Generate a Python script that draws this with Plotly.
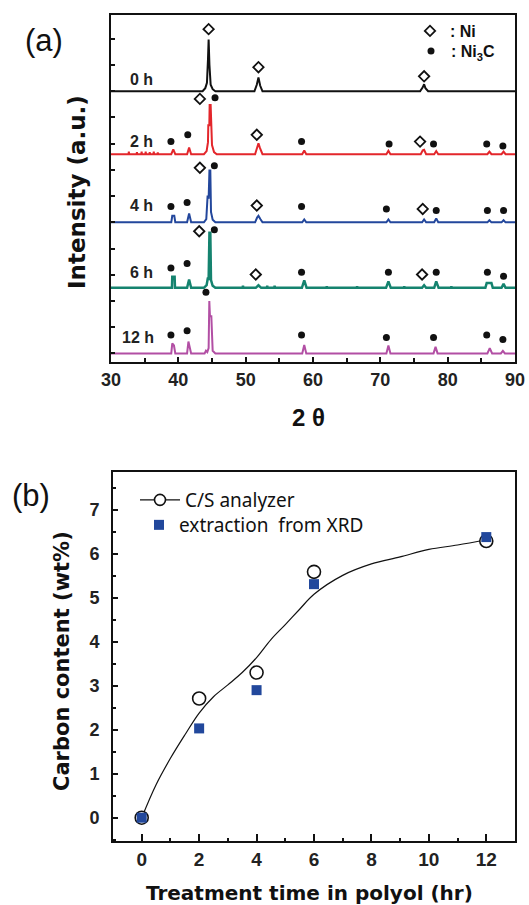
import plotly.graph_objects as go

W, H = 529, 905

# ---------------- Panel (a): XRD patterns ----------------
labels = ["0 h", "2 h", "4 h", "6 h", "12 h"]
colors = ["#111111", "#e3262b", "#23479c", "#15836f", "#b24fa4"]
widths = [2, 2, 2, 2.5, 2]
offsets = [10.0, 7.6, 5.0, 2.5, 0.0]

x_0h = [30, 43.6, 44.0, 44.25, 44.4, 44.5, 44.62, 44.8, 45.1, 45.5,
        51.3, 51.65, 51.9, 52.15, 52.5, 75.9, 76.3, 76.5, 76.7, 77.1, 90]
y_0h = [0, 0, 0.12, 0.32, 1.2, 1.97, 1.0, 0.25, 0.08, 0,
        0, 0.25, 0.53, 0.22, 0, 0, 0.15, 0.27, 0.12, 0, 0]

x_2h = [30, 32.6, 32.65, 32.7, 33.8, 33.85, 33.9, 34.5, 34.55, 34.6, 35.1, 35.15, 35.2,
        35.7, 35.75, 35.8, 36.3, 36.35, 36.4, 36.9, 36.95, 37.0,
        38.95, 39.25, 39.55, 41.3, 41.6, 41.9,
        43.8, 44.2, 44.4, 44.45, 44.6, 44.65, 44.8, 45.0, 45.3, 45.7,
        51.4, 51.7, 51.9, 52.1, 52.5, 58.4, 58.7, 59.0, 70.9, 71.2, 71.5,
        76.0, 76.3, 76.5, 76.8, 78.0, 78.3, 78.6, 85.9, 86.2, 86.5, 88.0, 88.3, 88.6, 90]
y_2h = [0, 0, 0.1, 0, 0, 0.08, 0, 0, 0.1, 0, 0, 0.1, 0,
        0, 0.08, 0, 0, 0.1, 0, 0, 0.07, 0,
        0, 0.18, 0, 0, 0.25, 0,
        0, 0.12, 0.45, 1.1, 1.1, 1.88, 1.88, 0.35, 0.08, 0,
        0, 0.3, 0.42, 0.25, 0, 0, 0.14, 0, 0, 0.13, 0,
        0, 0.15, 0.17, 0, 0, 0.12, 0, 0, 0.1, 0, 0, 0.1, 0, 0]

x_4h = [30, 38.95, 39.1, 39.4, 39.55, 41.3, 41.6, 41.9,
        43.8, 44.15, 44.35, 44.5, 44.62, 44.75, 44.85, 45.1, 45.5,
        51.4, 51.7, 51.9, 52.2, 52.5, 58.4, 58.7, 59.0, 70.9, 71.2, 71.5,
        76.2, 76.5, 76.8, 78.0, 78.3, 78.6, 85.9, 86.2, 86.5, 88.0, 88.3, 88.6, 90]
y_4h = [0, 0, 0.25, 0.25, 0, 0, 0.34, 0,
        0, 0.12, 1.02, 0.9, 1.98, 1.98, 0.4, 0.1, 0,
        0, 0.18, 0.25, 0.12, 0, 0, 0.11, 0, 0, 0.11, 0,
        0, 0.11, 0, 0, 0.15, 0, 0, 0.08, 0, 0, 0.08, 0, 0]

x_6h = [30, 39.05, 39.1, 39.45, 39.5, 41.3, 41.6, 41.9,
        43.8, 44.2, 44.4, 44.5, 44.62, 44.75, 44.85, 45.1, 45.5,
        49.55, 49.6, 49.65, 51.5, 51.9, 52.3, 53.15, 53.2, 53.25, 54.25, 54.3, 54.35,
        58.35, 58.7, 59.05, 62.0, 62.05, 62.1, 66.5, 66.55, 66.6,
        70.85, 71.2, 71.55, 73.5, 73.55, 73.6, 76.2, 76.5, 76.8,
        78.0, 78.3, 78.65, 80.5, 80.55, 80.6, 85.6, 85.8, 86.5, 86.7, 88.0, 88.3, 88.6, 90]
y_6h = [0, 0, 0.42, 0.42, 0, 0, 0.32, 0,
        0, 0.1, 0.4, 0.3, 2.1, 2.1, 0.3, 0.08, 0,
        0, 0.08, 0, 0, 0.1, 0, 0, 0.08, 0, 0, 0.08, 0,
        0, 0.29, 0, 0, 0.06, 0, 0, 0.06, 0,
        0, 0.25, 0, 0, 0.06, 0, 0, 0.1, 0,
        0, 0.25, 0, 0, 0.06, 0, 0, 0.19, 0.19, 0, 0, 0.15, 0, 0]

x_12h = [30, 38.95, 39.1, 39.35, 39.55, 41.3, 41.5, 41.65, 41.9,
         43.9, 44.1, 44.3, 44.5, 44.6, 44.7, 44.9, 45.1, 45.5,
         58.4, 58.7, 59.0, 70.9, 71.2, 71.5, 77.9, 78.2, 78.5,
         85.9, 86.25, 86.6, 87.9, 88.2, 88.5, 90]
y_12h = [0, 0, 0.38, 0.3, 0, 0, 0.45, 0.3, 0,
         0, 0.1, 0.05, 0.2, 2.0, 1.42, 1.42, 0.1, 0,
         0, 0.32, 0, 0, 0.3, 0, 0, 0.25, 0, 0, 0.2, 0, 0, 0.1, 0, 0]

pattern_x = [x_0h, x_2h, x_4h, x_6h, x_12h]
pattern_y = [y_0h, y_2h, y_4h, y_6h, y_12h]

# phase markers (2theta, height above each pattern's baseline)
ni_x = [[44.5, 51.9, 76.5], [43.2, 51.65, 75.9], [43.2, 51.65, 76.3], [43.1, 51.5, 76.2], []]
ni_y = [[2.37, 0.92, 0.57], [2.11, 0.74, 0.48], [2.08, 0.64, 0.51], [2.16, 0.51, 0.51], []]
ni3c_x = [[],
          [38.9, 41.4, 45.45, 58.3, 71.3, 77.9, 85.8, 88.2],
          [38.9, 41.3, 45.35, 58.3, 70.9, 78.3, 85.9, 88.3],
          [38.9, 41.3, 45.35, 58.3, 71.2, 78.3, 85.9, 88.3],
          [38.9, 41.3, 44.1, 58.3, 70.9, 77.9, 85.8, 88.2]]
ni3c_y = [[],
          [0.48, 0.74, 2.15, 0.48, 0.39, 0.39, 0.39, 0.31],
          [0.6, 0.76, 2.16, 0.6, 0.51, 0.45, 0.45, 0.45],
          [0.76, 0.93, 2.22, 0.6, 0.6, 0.6, 0.6, 0.44],
          [0.7, 0.86, 2.33, 0.7, 0.61, 0.61, 0.7, 0.53]]

label_x = [34.6, 34.6, 34.6, 34.6, 34.0]
label_y = [0.46, 0.5, 0.64, 0.6, 0.61]

# ---------------- Panel (b): carbon content ----------------
time_hr = [0, 2, 4, 6, 12]
cs_analyzer = [0.0, 2.71, 3.30, 5.59, 6.29]
xrd_extract = [0.0, 2.03, 2.90, 5.31, 6.38]
fit_x = [0, 0.5, 1, 1.5, 2, 2.5, 3, 3.5, 4, 4.5, 5, 5.5, 6, 7, 8, 9, 10, 11, 12]
fit_y = [0, 0.75, 1.35, 1.88, 2.38, 2.75, 3.02, 3.3, 3.64, 4.05, 4.39, 4.74, 5.08,
         5.51, 5.77, 5.93, 6.1, 6.2, 6.32]

fig = go.Figure()

for i in range(len(labels)):
    fig.add_trace(go.Scatter(
        x=pattern_x[i], y=[v + offsets[i] for v in pattern_y[i]],
        mode="lines", line=dict(color=colors[i], width=widths[i]),
        showlegend=False, xaxis="x", yaxis="y", hoverinfo="skip"))

nx, ny, cx, cy = [], [], [], []
for i in range(len(labels)):
    nx += ni_x[i]
    ny += [v + offsets[i] for v in ni_y[i]]
    cx += ni3c_x[i]
    cy += [v + offsets[i] for v in ni3c_y[i]]

fig.add_trace(go.Scatter(
    x=nx, y=ny, mode="markers", name=": Ni",
    marker=dict(symbol="diamond-open", size=8, color="#111111", line=dict(width=1.8)),
    xaxis="x", yaxis="y", legend="legend2"))
fig.add_trace(go.Scatter(
    x=cx, y=cy, mode="markers", name=": Ni<sub>3</sub>C",
    marker=dict(symbol="circle", size=7, color="#111111"),
    xaxis="x", yaxis="y", legend="legend4"))

annotations = []
for i in range(len(labels)):
    annotations.append(dict(
        x=label_x[i], y=label_y[i] + offsets[i], xref="x", yref="y",
        text=labels[i], showarrow=False, xanchor="center", yanchor="middle",
        font=dict(family="Liberation Sans", size=16, color="#222", weight="bold")))

# panel (b) traces
fig.add_trace(go.Scatter(
    x=fit_x, y=fit_y, mode="lines", line=dict(color="#111111", width=1.2, shape="spline"),
    showlegend=False, xaxis="x2", yaxis="y2", hoverinfo="skip"))
fig.add_trace(go.Scatter(
    x=time_hr, y=cs_analyzer, mode="markers", name="C/S analyzer",
    marker=dict(symbol="circle", size=13, color="white", line=dict(color="#111111", width=1.6)),
    showlegend=False, xaxis="x2", yaxis="y2"))
fig.add_trace(go.Scatter(
    x=[None], y=[None], mode="lines+markers", name="C/S analyzer",
    line=dict(color="#111111", width=1.2),
    marker=dict(symbol="circle", size=11, color="white", line=dict(color="#111111", width=1.6)),
    xaxis="x2", yaxis="y2", legend="legend"))
fig.add_trace(go.Scatter(
    x=time_hr, y=xrd_extract, mode="markers", name="extraction  from XRD",
    marker=dict(symbol="square", size=10, color="#22489c"),
    xaxis="x2", yaxis="y2", legend="legend3"))


def pann(px, py, text, size, weight="normal", angle=0, family="Liberation Sans"):
    return dict(x=px / W, y=1 - py / H, xref="paper", yref="paper", text=text,
                showarrow=False, xanchor="center", yanchor="middle", textangle=angle,
                font=dict(family=family, size=size, color="#111", weight=weight))


annotations += [
    pann(44, 40, "(a)", 31),
    pann(31, 495, "(b)", 31),
    pann(77, 192, "Intensity (a.u.)", 23, "bold", -90, "DejaVu Sans"),
    pann(308, 417, "2 θ", 24, "bold"),
    pann(62, 661, "Carbon content (wt%)", 21, "bold", -90, "DejaVu Sans"),
    pann(309, 893, "Treatment time in polyol (hr)", 20, "bold", 0, "DejaVu Sans"),
]

axis_common = dict(showline=True, linecolor="#111", linewidth=2, mirror=True,
                   showgrid=False, zeroline=False, ticks="inside", tickcolor="#111",
                   automargin=False)

tf = dict(family="Liberation Sans", size=18, color="#222", weight="bold")


def leg(px, py_top, size, family, weight="normal", itemwidth=30):
    return dict(x=px / W, y=1 - py_top / H, xanchor="left", yanchor="top",
                bgcolor="rgba(0,0,0,0)", borderwidth=0,
                font=dict(family=family, size=size, color="#111", weight=weight),
                tracegroupgap=0, itemwidth=itemwidth)


fig.update_layout(
    width=W, height=H, autosize=False,
    margin=dict(l=0, r=0, t=0, b=0, pad=0),
    paper_bgcolor="white", plot_bgcolor="white",
    xaxis=dict(domain=[111 / W, 515 / W], range=[30, 90], dtick=10, tick0=30,
               ticklen=5, tickwidth=1.5,
               minor=dict(dtick=5, ticks="inside", ticklen=4, tickcolor="#111", tickwidth=1.5),
               tickfont=tf, anchor="y", **axis_common),
    yaxis=dict(domain=[1 - 362.3 / H, 1 - 15 / H], range=[-0.34, 12.91], dtick=1, tick0=0,
               ticklen=4, tickwidth=1.5, showticklabels=False, anchor="x", **axis_common),
    xaxis2=dict(domain=[113 / W, 515 / W], range=[-1, 13], dtick=2, tick0=0,
                ticklen=7, tickwidth=1.5,
                minor=dict(dtick=1, ticks="inside", ticklen=3, tickcolor="#111", tickwidth=1.5),
                tickfont=dict(family="Liberation Sans", size=19, color="#222", weight="bold"),
                anchor="y2", **axis_common),
    yaxis2=dict(domain=[1 - 841 / H, 1 - 472 / H], range=[-0.53, 7.86], dtick=1, tick0=0,
                ticklen=5, tickwidth=1.5, ticklabelstandoff=8,
                minor=dict(dtick=0.5, ticks="inside", ticklen=3, tickcolor="#111", tickwidth=1.5),
                tickfont=dict(family="Liberation Sans", size=18, color="#222", weight="bold"),
                anchor="x2", **axis_common),
    legend=leg(135, 481, 19, "Noto Sans", itemwidth=40),
    legend3=leg(139, 506, 19, "Noto Sans"),
    legend2=leg(410, 14, 16, "Liberation Sans", "bold"),
    legend4=leg(411, 34, 16, "Liberation Sans", "bold"),
    annotations=annotations,
)

fig.write_html("out.html", config={"displayModeBar": False},
               post_script="document.body.style.margin='0px';")
